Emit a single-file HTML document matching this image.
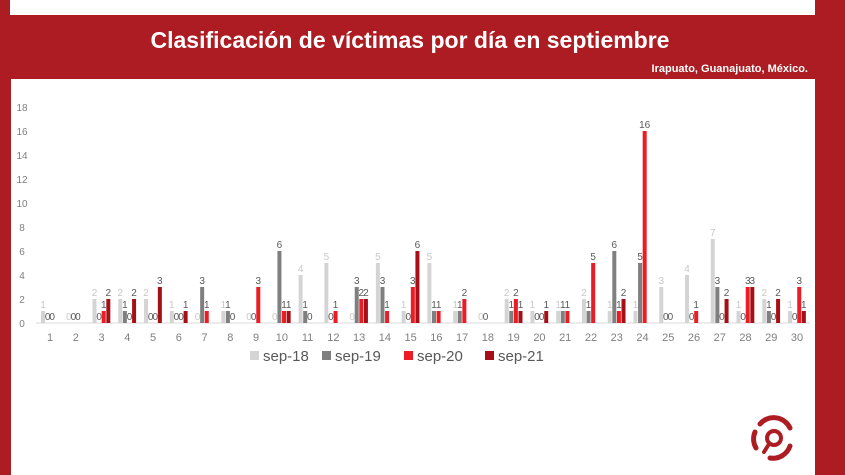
<!DOCTYPE html>
<html><head><meta charset="utf-8"><style>
html,body{margin:0;padding:0;width:845px;height:475px;overflow:hidden;background:#ad1c22;}
#w{position:absolute;left:0;top:0;width:845px;height:475px;}
</style></head><body>
<svg id="w" width="845" height="475" xmlns="http://www.w3.org/2000/svg" font-family="Liberation Sans, sans-serif">
<rect x="0" y="0" width="845" height="475" fill="#ad1c22"/>
<rect x="10" y="0" width="805" height="15" fill="#fff"/>
<rect x="11" y="79" width="804" height="396" fill="#fff"/>
<text x="410" y="48" fill="#fff" font-size="23" font-weight="bold" text-anchor="middle">Clasificación de víctimas por día en septiembre</text>
<text x="808" y="72" fill="#fff" font-size="11" font-weight="bold" text-anchor="end">Irapuato, Guanajuato, México.</text>
<g id="chart"></g>
<g stroke="#ad1c22" fill="none" stroke-linecap="round">
<path d="M760 424 A18 18 0 0 1 790 428" stroke-width="5"/>
<path d="M756 448 A18 18 0 0 1 755 432" stroke-width="5"/>
<path d="M790 446 A18 18 0 0 1 770 458" stroke-width="5"/>
<circle cx="774" cy="438" r="7" stroke-width="4"/>
<path d="M769 444 L764 452" stroke-width="4"/>
</g>
</svg>
<script>
var d=[[1,0,0,null],[0,0,0,null],[2,0,1,2],[2,1,0,2],[2,0,0,3],[1,0,0,1],[0,3,1,null],[1,1,0,null],[0,0,3,null],[0,6,1,1],[4,1,0,null],[5,0,1,null],[0,3,2,2],[5,3,1,null],[1,0,3,6],[5,1,1,null],[1,1,2,null],[0,0,null,null],[2,1,2,1],[1,0,0,1],[1,1,1,null],[2,1,5,null],[1,6,1,2],[1,5,16,null],[3,0,0,null],[4,0,1,null],[7,3,0,2],[1,0,3,3],[2,1,0,2],[1,0,3,1]];
var col=["#d4d4d4","#7f7f7f","#ec1c24","#a50f15"];
var lc=["#c8c8c8","#595959","#595959","#595959"];
var s="";var y0=323,u=12;
for(var k=0;k<=18;k+=2){s+='<text x="22" y="'+(y0-k*u+4)+'" font-size="10" fill="#7f7f7f" text-anchor="middle">'+k+'</text>';}
s+='<line x1="36" y1="'+y0+'" x2="810" y2="'+y0+'" stroke="#d9d9d9"/>';
for(var i=0;i<30;i++){var cx=50+i*25.76;
s+='<text x="'+cx+'" y="341" font-size="11" fill="#7f7f7f" text-anchor="middle">'+(i+1)+'</text>';
for(var j=0;j<4;j++){var v=d[i][j];if(v===null)continue;var x=cx-9+j*4.6,h=v*u;
if(h>0)s+='<rect x="'+x+'" y="'+(y0-h)+'" width="4" height="'+h+'" fill="'+col[j]+'"/>';
s+='<text x="'+(x+2)+'" y="'+(y0-h-3)+'" font-size="10" fill="'+lc[j]+'" text-anchor="middle">'+v+'</text>';}}
var lg=[["sep-18",250],["sep-19",322],["sep-20",404],["sep-21",485]];
for(var j=0;j<4;j++){s+='<rect x="'+lg[j][1]+'" y="351" width="9" height="9" fill="'+col[j]+'"/><text x="'+(lg[j][1]+13)+'" y="361" font-size="15" fill="#595959">'+lg[j][0]+'</text>';}
document.getElementById("chart").innerHTML=s;
</script>
</body></html>
